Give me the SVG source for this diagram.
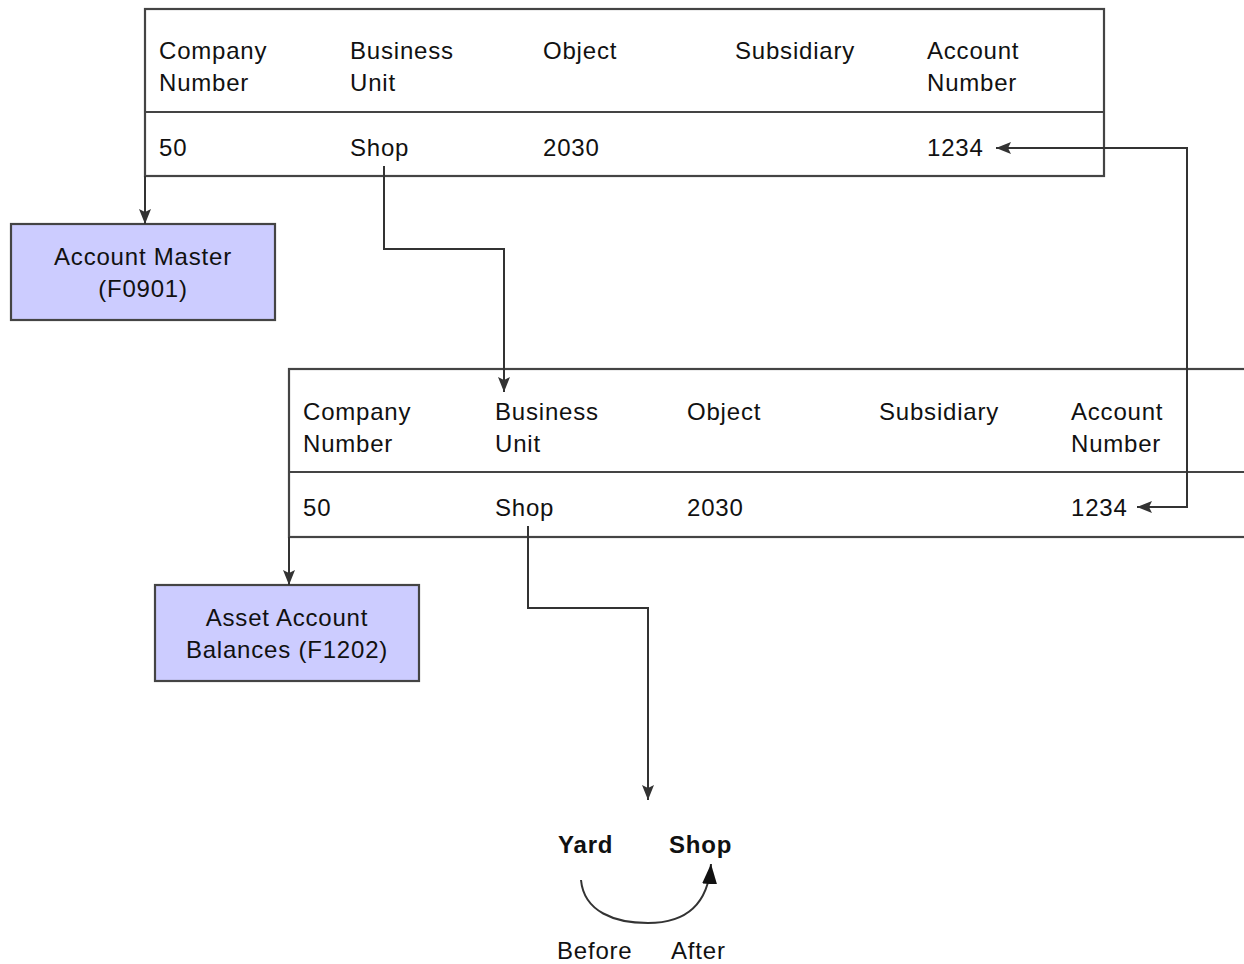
<svg xmlns="http://www.w3.org/2000/svg" width="1244" height="964" viewBox="0 0 1244 964">
<style>
text{font-family:"Liberation Sans",Arial,sans-serif;font-size:24px;fill:#111;letter-spacing:0.8px}
.b{font-weight:bold}
.m{text-anchor:middle}
.tbl{fill:#fff;stroke:#444;stroke-width:2.2}
.box{fill:#ccccff;stroke:#444;stroke-width:2.2}
.c{fill:none;stroke:#333;stroke-width:2}
</style>
<defs>
<marker id="ah" viewBox="0 0 15 12" refX="15" refY="6" markerWidth="15" markerHeight="12" markerUnits="userSpaceOnUse" orient="auto-start-reverse">
<path d="M0,0 L15,6 L0,12 L3,6 Z" fill="#333"/>
</marker>
<marker id="ah2" viewBox="0 0 20 15" refX="20" refY="7.5" markerWidth="20" markerHeight="15" markerUnits="userSpaceOnUse" orient="auto">
<path d="M0,0 L20,7.5 L0,15 Z" fill="#111"/>
</marker>
</defs>
<g id="table1">
<rect class="tbl" x="145" y="9" width="959" height="167"/>
<line class="tbl" x1="145" y1="112" x2="1104" y2="112"/>
<text x="159" y="59">Company</text><text x="159" y="91">Number</text>
<text x="350" y="59">Business</text><text x="350" y="91">Unit</text>
<text x="543" y="59">Object</text>
<text x="735" y="59">Subsidiary</text>
<text x="927" y="59">Account</text><text x="927" y="91">Number</text>
<text x="159" y="156">50</text>
<text x="350" y="156">Shop</text>
<text x="543" y="156">2030</text>
<text x="927" y="156">1234</text>
</g>
<g id="table2">
<rect class="tbl" x="289" y="369" width="980" height="168"/>
<line class="tbl" x1="289" y1="472" x2="1269" y2="472"/>
<text x="303" y="420">Company</text><text x="303" y="452">Number</text>
<text x="495" y="420">Business</text><text x="495" y="452">Unit</text>
<text x="687" y="420">Object</text>
<text x="879" y="420">Subsidiary</text>
<text x="1071" y="420">Account</text><text x="1071" y="452">Number</text>
<text x="303" y="516">50</text>
<text x="495" y="516">Shop</text>
<text x="687" y="516">2030</text>
<text x="1071" y="516">1234</text>
</g>
<g id="accountMaster">
<rect class="box" x="11" y="224" width="264" height="96"/>
<text class="m" x="143" y="265">Account Master</text>
<text class="m" x="143" y="297">(F0901)</text>
</g>
<g id="assetBalances">
<rect class="box" x="155" y="585" width="264" height="96"/>
<text class="m" x="287" y="626">Asset Account</text>
<text class="m" x="287" y="658">Balances (F1202)</text>
</g>
<g id="yardShop">
<text class="b" x="558" y="853">Yard</text>
<text class="b" x="669" y="853">Shop</text>
<text x="557" y="959">Before</text>
<text x="671" y="959">After</text>
</g>
<g id="connectors">
<path class="c" d="M145,176 V224" marker-end="url(#ah)"/>
<path class="c" d="M289,537 V585" marker-end="url(#ah)"/>
<path class="c" d="M384,166 V249 H504 V392" marker-end="url(#ah)"/>
<path class="c" d="M528,526 V608 H648 V800" marker-end="url(#ah)"/>
<path class="c" d="M996,148 H1187 V507 H1137" marker-start="url(#ah)" marker-end="url(#ah)"/>
<path class="c" d="M581,880 C584,912 615,923 648,923 C684,923 708,906 711,864" marker-end="url(#ah2)"/>
</g>
</svg>
